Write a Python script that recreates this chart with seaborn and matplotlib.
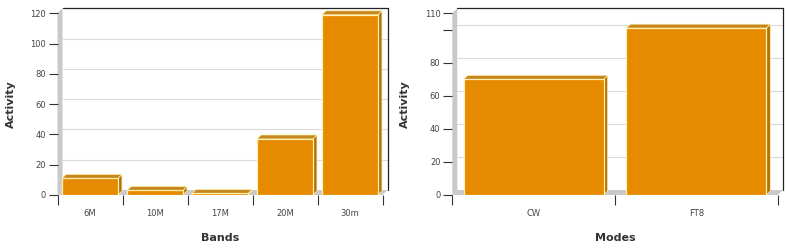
import matplotlib
matplotlib.use("Agg")
import matplotlib.pyplot as plt
import seaborn as sns
import pandas as pd
from matplotlib.patches import Polygon
from matplotlib.ticker import FixedLocator

bands = ["6M", "10M", "17M", "20M", "30m"]
band_activity = [11, 3, 1, 37, 119]
modes = ["CW", "FT8"]
mode_activity = [70, 101]

band_yticks = [0, 20, 40, 60, 80, 100, 120]
band_yticklabels = ["0", "20", "40", "60", "80", "100", "120"]
mode_yticks = [0, 20, 40, 60, 80, 100, 110]
mode_yticklabels = ["0", "20", "40", "60", "80", "", "110"]

sns.set_theme(style="white")
plt.rcParams['font.family'] = ['DejaVu Sans']

FRONT = "#E68A00"
TOP = "#C8861E"
SIDE = "#B37208"
WALL = "#C9C9C9"
EDGE = "#FFF1B0"

W, H = 787, 248
fig = plt.figure(figsize=(W / 100, H / 100), dpi=100)

def panel(rect_px, cats, vals, ymax, yticks, yticklabels, xlabel):
    x0, x1, ytop, ybot = rect_px
    ax = fig.add_axes([x0 / W, (H - ybot) / H, (x1 - x0) / W, (ybot - ytop) / H])
    df = pd.DataFrame({"cat": cats, "val": vals})
    sns.barplot(data=df, x="cat", y="val", color=FRONT, width=0.86,
                saturation=1, ax=ax, edgecolor=EDGE, linewidth=0.9, zorder=3)
    n = len(cats)
    ax.set_xlim(-0.5, n - 0.5)
    ax.set_ylim(0, ymax)
    axw = x1 - x0
    axh = ybot - ytop
    dx = 5 * n / axw
    dy = 5 * ymax / axh
    bdx = 4 * n / axw
    bdy = 4 * ymax / axh
    xmin, xmax = -0.5, n - 0.5
    # wall and floor
    ax.add_patch(Polygon([(xmin, 0), (xmin, ymax), (xmin + dx, ymax + dy), (xmin + dx, dy)],
                         closed=True, facecolor=WALL, edgecolor="none", zorder=0.5, clip_on=False))
    ax.add_patch(Polygon([(xmin, 0), (xmax, 0), (xmax + dx, dy), (xmin + dx, dy)],
                         closed=True, facecolor=WALL, edgecolor="none", zorder=0.5, clip_on=False))
    # gridlines
    for v in yticks[1:-1]:
        ax.plot([xmin + dx, xmax + dx], [v + dy, v + dy], color="#DADADA", lw=0.8,
                zorder=0.6, clip_on=False)
    # back frame
    ax.plot([xmin + dx, xmax + dx], [ymax + dy, ymax + dy], color="#222222", lw=0.9,
            zorder=0.7, clip_on=False)
    ax.plot([xmax + dx, xmax + dx], [dy, ymax + dy], color="#222222", lw=0.9,
            zorder=0.7, clip_on=False)
    # 3D faces
    for p in list(ax.patches):
        if not hasattr(p, "get_width") or isinstance(p, Polygon):
            continue
        bx, bw, bh = p.get_x(), p.get_width(), p.get_height()
        ax.add_patch(Polygon([(bx + bw, 0), (bx + bw, bh), (bx + bw + bdx, bh + bdy), (bx + bw + bdx, bdy)],
                             closed=True, facecolor=SIDE, edgecolor=EDGE, lw=0.5, zorder=2.5, clip_on=False))
        ax.add_patch(Polygon([(bx, bh), (bx + bw, bh), (bx + bw + bdx, bh + bdy), (bx + bdx, bh + bdy)],
                             closed=True, facecolor=TOP, edgecolor=EDGE, lw=0.5, zorder=2.5, clip_on=False))
    for s in ax.spines.values():
        s.set_visible(False)
    ax.set_yticks(yticks)
    ax.set_yticklabels(yticklabels)
    ax.set_xticks(range(n))
    ax.set_xticklabels(cats)
    ax.xaxis.set_minor_locator(FixedLocator([i - 0.5 for i in range(n + 1)]))
    ax.tick_params(axis="y", which="major", left=True, length=6.5, width=0.8, color="#333333",
                   labelsize=6, labelcolor="#444444", pad=2)
    ax.tick_params(axis="x", which="major", bottom=True, length=0, labelsize=6,
                   labelcolor="#444444", pad=10)
    ax.tick_params(axis="x", which="minor", bottom=True, length=7, width=0.8, color="#333333")
    ax.set_xlabel(xlabel, fontsize=8, fontweight="bold", color="#333333")
    ax.set_ylabel("Activity", fontsize=8, fontweight="bold", color="#333333")
    ax.xaxis.set_label_coords((x0 + axw / 2 - x0 + 0) / axw, (ybot - 238) / axh)
    ax.xaxis.label.set_va("center")
    return ax

ax1 = panel((57.5, 382.5, 13.3, 195), bands, band_activity, 120,
            band_yticks, band_yticklabels, "Bands")
ax1.yaxis.set_label_coords((11 - 57.5) / 325, 0.5)
ax1.yaxis.label.set_va("center")

ax2 = panel((452.3, 777.7, 13.3, 195), modes, mode_activity, 110,
            mode_yticks, mode_yticklabels, "Modes")
ax2.yaxis.set_label_coords((405 - 452.3) / 325.4, 0.5)
ax2.yaxis.label.set_va("center")

fig.savefig("out.png", dpi=100)
